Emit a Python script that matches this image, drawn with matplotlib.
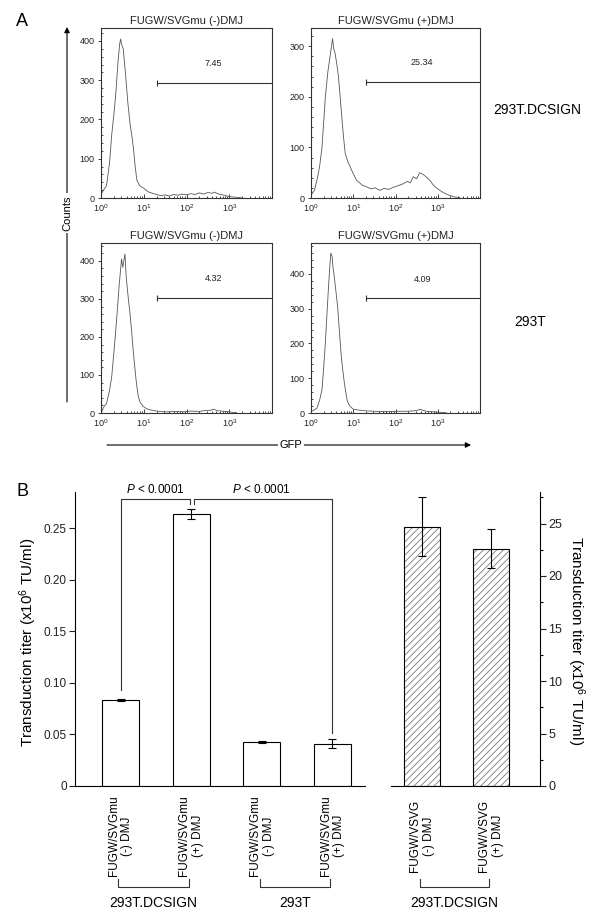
import numpy as np
import matplotlib

matplotlib.use("Agg")
import matplotlib.pyplot as plt
import matplotlib.transforms as mtrans
from matplotlib import rcParams
from matplotlib.ticker import FixedLocator, MultipleLocator, LogLocator, NullFormatter, LogFormatterMathtext

rcParams.update({
    "font.family": ["Liberation Sans", "DejaVu Sans"],
    "mathtext.fontset": "custom",
    "mathtext.rm": "Liberation Sans",
    "mathtext.it": "Liberation Sans:italic",
    "mathtext.default": "regular",
    "axes.linewidth": 0.8,
    "hatch.linewidth": 0.6,
})

W, H = 600, 919

# ── Panel A: flow histograms (log10 GFP, counts) ─────────────────────
tl_log = [0.00, 0.00, 0.05, 0.13, 0.20, 0.25, 0.31, 0.35, 0.40, 0.44, 0.46, 0.48, 0.52, 0.57, 0.63,
          0.68, 0.72, 0.76, 0.80, 0.84, 0.90, 0.95, 1.00, 1.05, 1.12, 1.20, 1.30, 1.40, 1.50, 1.60,
          1.70, 1.80, 1.90, 2.00, 2.10, 2.20, 2.30, 2.40, 2.50, 2.60, 2.65, 2.75, 2.85, 2.95, 3.05,
          3.15, 3.30]
tl_cnt = [60, 10, 18, 32, 90, 160, 222, 272, 350, 395, 405, 392, 380, 320, 240,
          188, 160, 125, 80, 45, 32, 28, 25, 20, 15, 12, 9, 6, 8, 5,
          9, 7, 10, 8, 11, 9, 13, 10, 14, 12, 15, 10, 8, 5, 3,
          2, 0]

tr_log = [0.00, 0.02, 0.08, 0.14, 0.20, 0.26, 0.30, 0.34, 0.40, 0.46, 0.51, 0.54, 0.57, 0.61, 0.65,
          0.69, 0.73, 0.77, 0.81, 0.87, 0.93, 1.00, 1.08, 1.15, 1.22, 1.32, 1.42, 1.52, 1.63, 1.73,
          1.83, 1.95, 2.05, 2.18, 2.28, 2.35, 2.42, 2.50, 2.57, 2.62, 2.68, 2.75, 2.81, 2.90, 3.00,
          3.05, 3.15, 3.28, 3.40, 3.52]
tr_cnt = [28, 8, 15, 35, 60, 100, 150, 200, 250, 285, 315, 295, 286, 265, 240,
          200, 160, 120, 88, 72, 61, 48, 35, 30, 25, 22, 18, 20, 15, 19,
          17, 21, 24, 28, 33, 30, 42, 38, 50, 48, 45, 40, 35, 25, 18,
          15, 10, 5, 2, 1]

bl_log = [0.00, 0.01, 0.06, 0.13, 0.20, 0.25, 0.31, 0.37, 0.42, 0.48, 0.51, 0.56, 0.59, 0.64, 0.68,
          0.72, 0.76, 0.80, 0.83, 0.87, 0.91, 0.98, 1.07, 1.20, 1.38, 1.55, 1.75, 1.93, 2.10, 2.30,
          2.45, 2.55, 2.63, 2.72, 2.83, 2.94, 3.05, 3.17]
bl_cnt = [33, 2, 15, 25, 60, 95, 170, 252, 330, 405, 383, 418, 357, 300, 260,
          210, 156, 110, 77, 45, 29, 18, 11, 7, 4, 3, 4, 3, 5, 4,
          7, 7, 10, 6, 5, 4, 2, 1]

br_log = [0.00, 0.01, 0.07, 0.14, 0.20, 0.26, 0.30, 0.34, 0.38, 0.42, 0.45, 0.47, 0.50, 0.52, 0.55,
          0.59, 0.63, 0.67, 0.71, 0.75, 0.79, 0.83, 0.86, 0.92, 1.00, 1.15, 1.32, 1.50, 1.70, 1.87,
          2.05, 2.25, 2.42, 2.52, 2.58, 2.64, 2.73, 2.85, 3.05, 3.20]
br_cnt = [48, 5, 8, 14, 35, 67, 130, 201, 290, 374, 430, 460, 450, 420, 393,
          350, 306, 240, 172, 125, 86, 55, 34, 20, 11, 8, 6, 5, 4, 4,
          5, 5, 6, 8, 11, 8, 5, 4, 2, 1]

hist_titles = ["FUGW/SVGmu (-)DMJ", "FUGW/SVGmu (+)DMJ", "FUGW/SVGmu (-)DMJ", "FUGW/SVGmu (+)DMJ"]
gate_pct = ["7.45", "25.34", "4.32", "4.09"]
gate_lo = 20
row_labels = ["293T.DCSIGN", "293T"]

# ── Panel B: transduction titers ─────────────────────────────────────
mu_titer = [0.083, 0.264, 0.043, 0.041]
mu_err = [0.001, 0.005, 0.001, 0.0045]
mu_labels = ["FUGW/SVGmu\n(-) DMJ", "FUGW/SVGmu\n(+) DMJ", "FUGW/SVGmu\n(-) DMJ", "FUGW/SVGmu\n(+) DMJ"]
vsvg_titer = [24.7, 22.6]
vsvg_err = [2.8, 1.85]
vsvg_labels = ["FUGW/VSVG\n(-) DMJ", "FUGW/VSVG\n(+) DMJ"]
groups = ["293T.DCSIGN", "293T", "293T.DCSIGN"]
p_text = "$\\it{P}$ < 0.0001"
y_title = "Transduction titer (x10$^6$ TU/ml)"

LINE = "#555555"
TXT = "#222222"


def box(x0, y0, x1, y1):
    return [x0 / W, 1 - y1 / H, (x1 - x0) / W, (y1 - y0) / H]


fig = plt.figure(figsize=(W / 100, H / 100), dpi=100)
ov = fig.add_axes([0, 0, 1, 1], zorder=10)
ov.set_xlim(0, W)
ov.set_ylim(H, 0)
ov.axis("off")


def hist_panel(rect, logx, cnt, title, ymax, ytop, gate_y, txt_y, pct):
    ax = fig.add_axes(box(*rect))
    ax.plot(10 ** np.array(logx), cnt, color=LINE, lw=0.6)
    ax.set_xscale("log")
    ax.set_xlim(1, 1e4)
    ax.set_ylim(0, ymax)
    ax.xaxis.set_major_locator(FixedLocator([1, 10, 100, 1000]))
    ax.xaxis.set_major_formatter(LogFormatterMathtext())
    ax.xaxis.set_minor_locator(LogLocator(subs=np.arange(2, 10), numticks=20))
    ax.xaxis.set_minor_formatter(NullFormatter())
    ax.yaxis.set_major_locator(FixedLocator(np.arange(0, ytop + 1, 100)))
    ax.yaxis.set_minor_locator(MultipleLocator(20))
    ax.tick_params(axis="x", which="major", direction="in", length=3, width=0.6,
                   labelsize=6.5, colors=TXT, pad=3)
    ax.tick_params(axis="x", which="minor", direction="in", length=1.8, width=0.5)
    ax.tick_params(axis="y", which="major", direction="out", length=2.5, width=0.6,
                   labelsize=6.5, colors=TXT, pad=2)
    ax.tick_params(axis="y", which="minor", direction="in", length=1.5, width=0.5)
    for s in ax.spines.values():
        s.set_color("#333333")
        s.set_linewidth(0.8)
    ax.set_title(title, fontsize=8, pad=3, color=TXT)
    ax.plot([gate_lo, 1e4], [gate_y, gate_y], color="#333333", lw=0.8, clip_on=False)
    ax.plot([gate_lo], [gate_y], marker="|", ms=5, mew=0.8, color="#333333")
    ax.text(10 ** 2.63, txt_y, pct, fontsize=6.5, ha="center", va="center", color=TXT)
    return ax


hist_panel((101, 28, 272, 198), tl_log, tl_cnt, hist_titles[0], 433, 400, 294, 342, gate_pct[0])
hist_panel((311, 28, 480, 198), tr_log, tr_cnt, hist_titles[1], 336, 300, 230, 267, gate_pct[1])
hist_panel((101, 243, 272, 413), bl_log, bl_cnt, hist_titles[2], 447, 400, 302, 353, gate_pct[2])
hist_panel((311, 243, 480, 413), br_log, br_cnt, hist_titles[3], 489, 400, 330, 385, gate_pct[3])

ov.text(537, 110, row_labels[0], fontsize=10, ha="center", va="center")
ov.text(530, 322, row_labels[1], fontsize=10, ha="center", va="center")

# Counts / GFP arrows
ov.annotate("", xy=(67, 27), xytext=(67, 402),
            arrowprops=dict(arrowstyle="-|>", lw=0.8, color="black", mutation_scale=8,
                            shrinkA=0, shrinkB=0))
ov.text(67, 213, "Counts", fontsize=8, rotation=90, ha="center", va="center",
        bbox=dict(fc="white", ec="none", pad=1.5))
ov.annotate("", xy=(471, 445), xytext=(107, 445),
            arrowprops=dict(arrowstyle="-|>", lw=0.8, color="black", mutation_scale=8,
                            shrinkA=0, shrinkB=0))
ov.text(291, 445, "GFP", fontsize=8, ha="center", va="center",
        bbox=dict(fc="white", ec="none", pad=1.5))

ov.text(22, 22, "A", fontsize=13, ha="center", va="center")
ov.text(23, 492, "B", fontsize=13, ha="center", va="center")

# ── Panel B left axes ────────────────────────────────────────────────
axL = fig.add_axes(box(75, 492, 365, 786))
xL = np.arange(len(mu_titer))
axL.bar(xL, mu_titer, width=0.52, color="white", edgecolor="black", lw=0.8,
        yerr=mu_err, capsize=3, error_kw=dict(elinewidth=0.8, capthick=0.8, ecolor="black"))
axL.set_xlim(-0.644, 3.46)
axL.set_ylim(0, 0.285)
axL.set_yticks([0, 0.05, 0.10, 0.15, 0.20, 0.25])
axL.set_yticklabels(["0", "0.05", "0.10", "0.15", "0.20", "0.25"])
axL.set_xticks([])
axL.tick_params(axis="y", length=4, width=0.8, labelsize=8.5, colors=TXT, pad=2)
for s in ("top", "right"):
    axL.spines[s].set_visible(False)
ov.text(28, 642, y_title, fontsize=11, rotation=90, ha="center", va="center")

# significance brackets
y_br = 0.278
axL.plot([0, 0, 0.985, 0.985], [mu_titer[0] + 0.010, y_br, y_br, y_br - 0.0045],
         color="#333333", lw=0.8, clip_on=False)
axL.plot([1.04, 1.04, 3, 3], [y_br - 0.0045, y_br, y_br, mu_titer[3] + mu_err[3] + 0.006],
         color="#333333", lw=0.8, clip_on=False)
axL.text(0.5, 0.281, p_text, fontsize=8.5, ha="center", va="bottom", clip_on=False)
axL.text(2.0, 0.281, p_text, fontsize=8.5, ha="center", va="bottom", clip_on=False)

# ── Panel B right axes ───────────────────────────────────────────────
axR = fig.add_axes(box(391, 492, 540, 786))
xR = np.arange(len(vsvg_titer))
axR.bar(xR, vsvg_titer, width=0.52, color="white", edgecolor="#7a7a7a", hatch="/////", lw=0)
axR.bar(xR, vsvg_titer, width=0.52, fill=False, edgecolor="black", lw=0.8,
        yerr=vsvg_err, capsize=3, error_kw=dict(elinewidth=0.8, capthick=0.8, ecolor="black"))
axR.set_xlim(-0.446, 1.70)
axR.set_ylim(0, 28)
axR.yaxis.tick_right()
axR.yaxis.set_major_locator(MultipleLocator(5))
axR.yaxis.set_minor_locator(MultipleLocator(2.5))
axR.set_xticks([])
axR.tick_params(axis="y", which="major", length=4, width=0.8, labelsize=9, colors=TXT, pad=2)
axR.tick_params(axis="y", which="minor", length=2.5, width=0.8)
for s in ("top", "left"):
    axR.spines[s].set_visible(False)
ov.text(576, 641, y_title, fontsize=11, rotation=270, ha="center", va="center")

# category labels and group brackets under the bars
for ax, xs, labels in ((axL, xL, mu_labels), (axR, xR, vsvg_labels)):
    tr = mtrans.blended_transform_factory(ax.transData, ov.transData)
    for x, lab in zip(xs, labels):
        ax.text(x, 836, lab, transform=tr, rotation=90, ha="center", va="center",
                multialignment="center", fontsize=8.5, clip_on=False)

grp_spans = [(axL, 0, 1), (axL, 2, 3), (axR, 0, 1)]
for (ax, a, b), name in zip(grp_spans, groups):
    tr = mtrans.blended_transform_factory(ax.transData, ov.transData)
    ax.plot([a - 0.03, a - 0.03, b - 0.03, b - 0.03], [879, 887, 887, 879], transform=tr,
            color="#333333", lw=0.8, clip_on=False)
    ax.text((a + b) / 2 - 0.03, 903, name, transform=tr, fontsize=10, ha="center",
            va="center", clip_on=False)

fig.savefig("out.png", dpi=100)
